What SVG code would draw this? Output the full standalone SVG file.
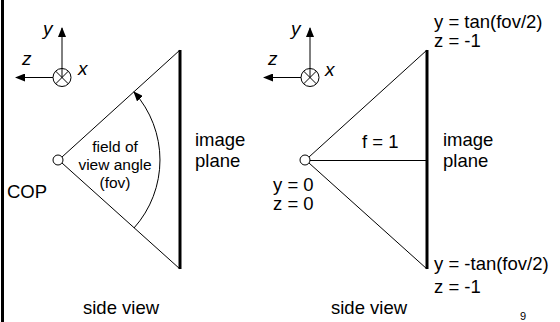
<svg xmlns="http://www.w3.org/2000/svg" width="560" height="322" viewBox="0 0 560 322">
<defs>
<style>
.t{font-family:"Liberation Sans",Arial,sans-serif;font-size:18.5px;fill:#000}
.s{font-size:15.5px}
.ax{font-family:"Liberation Sans",Arial,sans-serif;font-size:19px;font-style:italic;fill:#000}
.ln{stroke:#000;stroke-width:1;fill:none}
.pl{stroke:#000;stroke-width:3;fill:none}
</style>
<marker id="ah" markerWidth="10" markerHeight="8" refX="9" refY="4" orient="auto" markerUnits="userSpaceOnUse">
<path d="M0,0 L10,4 L0,8 Z" fill="#000"/>
</marker>
</defs>
<rect width="560" height="322" fill="#fff"/>
<line x1="2.5" y1="0" x2="2.5" y2="322" stroke="#000" stroke-width="3"/>

<g id="axes-left">
<line class="ln" x1="62" y1="77.5" x2="62" y2="28" marker-end="url(#ah)"/>
<line class="ln" x1="53" y1="77.5" x2="16" y2="77.5" marker-end="url(#ah)"/>
<circle class="ln" cx="62" cy="77.5" r="9"/>
<line class="ln" x1="55.6" y1="71.1" x2="68.4" y2="83.9"/>
<line class="ln" x1="68.4" y1="71.1" x2="55.6" y2="83.9"/>
<text class="ax" x="43" y="35">y</text>
<text class="ax" x="22" y="65">z</text>
<text class="ax" x="78" y="75">x</text>
</g>

<g id="axes-right">
<line class="ln" x1="310" y1="77.5" x2="310" y2="28" marker-end="url(#ah)"/>
<line class="ln" x1="301" y1="77.5" x2="264" y2="77.5" marker-end="url(#ah)"/>
<circle class="ln" cx="310" cy="77.5" r="9"/>
<line class="ln" x1="303.6" y1="71.1" x2="316.4" y2="83.9"/>
<line class="ln" x1="316.4" y1="71.1" x2="303.6" y2="83.9"/>
<text class="ax" x="291" y="35">y</text>
<text class="ax" x="268" y="65">z</text>
<text class="ax" x="325" y="76">x</text>
</g>

<g id="connectors">
<line class="ln" x1="62" y1="157" x2="180" y2="50"/>
<line class="ln" x1="62" y1="163" x2="180" y2="269"/>
<path class="ln" d="M134,228 A102,102 0 0 0 134,92" marker-end="url(#ah)"/>
<line class="ln" x1="309" y1="157" x2="427" y2="50"/>
<line class="ln" x1="309" y1="163" x2="427" y2="269"/>
<line class="ln" x1="310" y1="160.5" x2="427" y2="160.5"/>
</g>

<g id="image-plane-left">
<line class="pl" x1="180" y1="50" x2="180" y2="269"/>
<text class="t" x="195" y="146">image</text>
<text class="t" x="195" y="167">plane</text>
</g>

<g id="cop-left">
<circle cx="58" cy="160" r="5" fill="#fff" stroke="#000" stroke-width="1"/>
<text class="t" x="7" y="198">COP</text>
</g>

<g id="fov-label">
<text class="t s" x="115" y="152" text-anchor="middle">field of</text>
<text class="t s" x="115" y="170" text-anchor="middle">view angle</text>
<text class="t s" x="115" y="188" text-anchor="middle">(fov)</text>
</g>

<text class="t" x="83" y="314">side view</text>

<g id="image-plane-right">
<line class="pl" x1="427" y1="50" x2="427" y2="269"/>
<text class="t" x="443" y="146">image</text>
<text class="t" x="443" y="167">plane</text>
</g>

<g id="cop-right">
<circle cx="305" cy="160" r="5" fill="#fff" stroke="#000" stroke-width="1"/>
<text class="t" x="273" y="191">y = 0</text>
<text class="t" x="273" y="210">z = 0</text>
</g>

<text class="t" x="362" y="148">f = 1</text>

<g id="top-label">
<text class="t" x="434" y="28">y = tan(fov/2)</text>
<text class="t" x="434" y="47">z = -1</text>
</g>

<g id="bottom-label">
<text class="t" x="434" y="270">y = -tan(fov/2)</text>
<text class="t" x="434" y="293">z = -1</text>
</g>

<text class="t" x="331" y="314">side view</text>
<text x="520" y="320" font-family="Liberation Sans, Arial, sans-serif" font-size="11">9</text>
</svg>
